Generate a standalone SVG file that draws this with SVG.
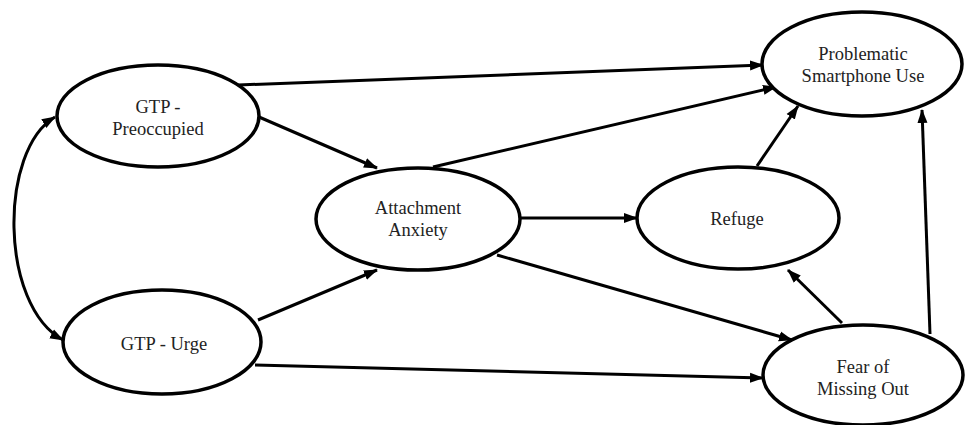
<svg xmlns="http://www.w3.org/2000/svg" width="967" height="425" viewBox="0 0 967 425">
<style>
.node ellipse{fill:#fff;stroke:#000;stroke-width:3.5}
.node text{font-size:18.5px;fill:#222;text-anchor:middle}
.edge{fill:none;stroke:#000;stroke-width:3}
</style>
<defs>
<marker id="ah" markerUnits="userSpaceOnUse" markerWidth="14" markerHeight="12" refX="13" refY="5" orient="auto-start-reverse" viewBox="0 0 14 10">
<path d="M0,0 L14,5 L0,10 Z" fill="#000"/>
</marker>
</defs>
<rect width="967" height="425" fill="#fff"/>
<g id="connectors">
<path class="edge" d="M55,117 C-1,150 -1,305 63,340" marker-start="url(#ah)" marker-end="url(#ah)"/>
<line class="edge" x1="238" y1="85" x2="763" y2="65" marker-end="url(#ah)"/>
<line class="edge" x1="259" y1="117" x2="377" y2="168" marker-end="url(#ah)"/>
<line class="edge" x1="258" y1="320" x2="377" y2="270" marker-end="url(#ah)"/>
<line class="edge" x1="255" y1="365" x2="763" y2="378" marker-end="url(#ah)"/>
<line class="edge" x1="433" y1="167" x2="776" y2="87" marker-end="url(#ah)"/>
<line class="edge" x1="520" y1="218" x2="637" y2="218" marker-end="url(#ah)"/>
<line class="edge" x1="497" y1="255" x2="792" y2="340" marker-end="url(#ah)"/>
<line class="edge" x1="757" y1="166" x2="798" y2="106" marker-end="url(#ah)"/>
<line class="edge" x1="842" y1="323" x2="788" y2="270" marker-end="url(#ah)"/>
<line class="edge" x1="930" y1="334" x2="922" y2="110" marker-end="url(#ah)"/>
</g>
<g font-family="Liberation Serif, Times New Roman, DejaVu Serif, serif">
<g id="gtp-preoccupied" class="node">
<ellipse cx="158" cy="116" rx="101" ry="51"/>
<text x="158" y="113">GTP -</text>
<text x="158" y="135">Preoccupied</text>
</g>
<g id="gtp-urge" class="node">
<ellipse cx="162" cy="342" rx="99" ry="52"/>
<text x="164" y="350">GTP - Urge</text>
</g>
<g id="attachment-anxiety" class="node">
<ellipse cx="418" cy="219" rx="102" ry="51"/>
<text x="418" y="214">Attachment</text>
<text x="418" y="236">Anxiety</text>
</g>
<g id="psu" class="node">
<ellipse cx="862" cy="64" rx="100" ry="52"/>
<text x="863" y="60">Problematic</text>
<text x="863" y="82">Smartphone Use</text>
</g>
<g id="refuge" class="node">
<ellipse cx="738" cy="218" rx="101" ry="51"/>
<text x="737" y="225">Refuge</text>
</g>
<g id="fomo" class="node">
<ellipse cx="863" cy="375" rx="100" ry="50"/>
<text x="863" y="373">Fear of</text>
<text x="863" y="395">Missing Out</text>
</g>
</g>
</svg>
